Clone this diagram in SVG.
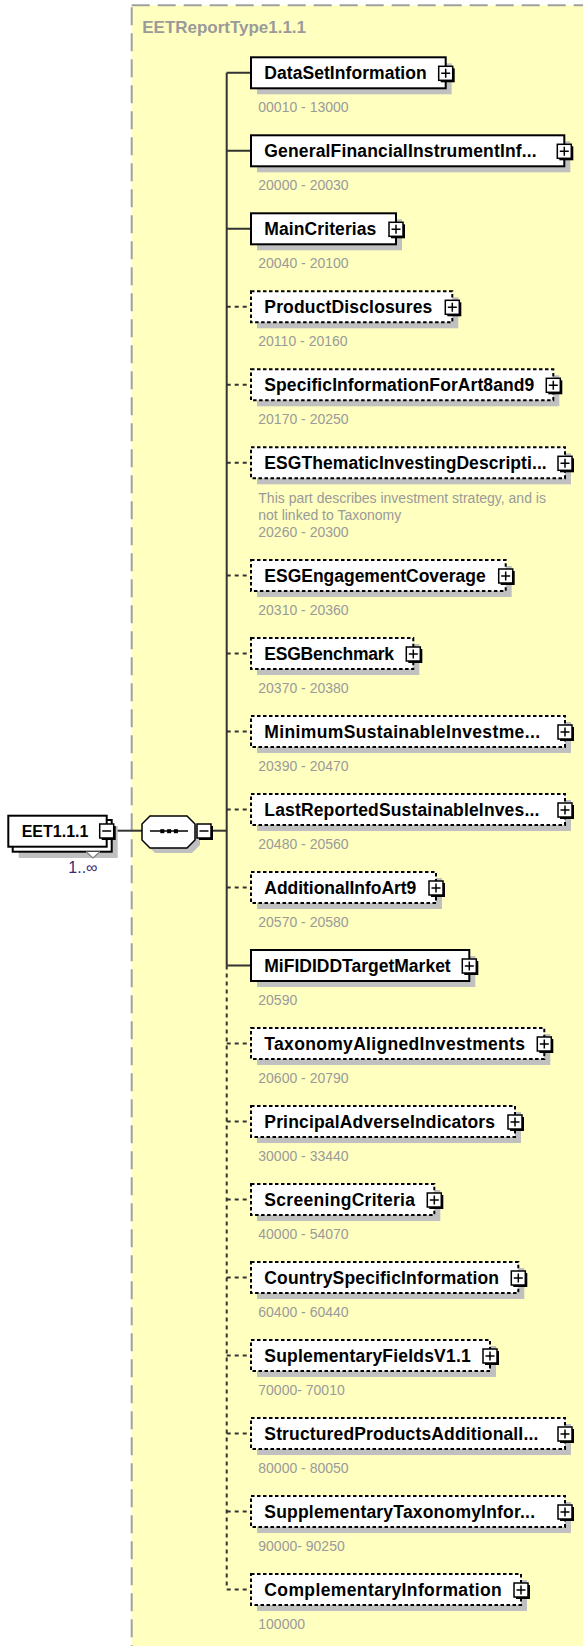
<svg xmlns="http://www.w3.org/2000/svg" xmlns:xlink="http://www.w3.org/1999/xlink" width="583" height="1646" viewBox="0 0 583 1646">
<style>
.lbl{font-family:"Liberation Sans",Arial,sans-serif;font-weight:bold;font-size:17.5px;fill:#000}
.num{font-family:"Liberation Sans",Arial,sans-serif;font-size:14px;fill:#9a9a9a}
.ttl{font-family:"Liberation Sans",Arial,sans-serif;font-weight:bold;font-size:17px;fill:#9a9a9a}
.box{fill:#fff;stroke:#000;stroke-width:2}
.opt{stroke-dasharray:3.5 2.5}
.shd{fill:#c0c0c0}
.con{fill:none;stroke:#333;stroke-width:2}
.dcon{stroke-dasharray:4 4}
.occ{font-family:"Liberation Sans",Arial,sans-serif;font-size:16px;fill:#3a2a70}
</style>
<defs>
<g id="plus">
<rect x="-5" y="-5" width="14" height="14" fill="#000"/>
<rect x="-7" y="-7" width="14" height="14" fill="#fff" stroke="#000" stroke-width="1.5"/>
<path d="M-4.5 0H4.5M0 -4.5V4.5" stroke="#000" stroke-width="1.5"/>
</g>
<g id="minus">
<rect x="-5" y="-5" width="14" height="14" fill="#000"/>
<rect x="-7" y="-7" width="14" height="14" fill="#fff" stroke="#000" stroke-width="1.5"/>
<path d="M-4.5 0H4.5" stroke="#000" stroke-width="1.5"/>
</g>
</defs>

<g id="container">
<rect x="131.7" y="5.3" width="520" height="1700" fill="#ffffc0" stroke="#a0a0a0" stroke-width="2" stroke-dasharray="18 8"/>
<text class="ttl" x="142.3" y="33.3" textLength="163.7">EETReportType1.1.1</text>
</g>

<g id="connectors">
<path class="con" d="M116 830.7H142"/>
<path class="con" d="M212 830.7H226.7"/>
<path class="con" d="M226.7 72.8V965.5"/>
<path class="con dcon" d="M226.7 965.5V1589.5"/>
<path class="con" d="M226.7 72.8H250M226.7 150.8H250M226.7 228.8H250M226.7 965.5H250"/>
<path class="con dcon" d="M226.7 306.8H250M226.7 384.8H250M226.7 462.8H250M226.7 575.5H250M226.7 653.5H250M226.7 731.5H250M226.7 809.5H250M226.7 887.5H250M226.7 1043.5H250M226.7 1121.5H250M226.7 1199.5H250M226.7 1277.5H250M226.7 1355.5H250M226.7 1433.5H250M226.7 1511.5H250M226.7 1589.5H250"/>
</g>

<g id="EET1.1.1">
<rect x="18.7" y="826" width="99" height="32" class="shd"/>
<rect x="12.7" y="820" width="99" height="31.7" class="box"/>
<rect x="8.3" y="815.7" width="98.4" height="31" class="box"/>
<path d="M86 851.7L93 858L100 851.7" fill="#fff" stroke="#808080" stroke-width="1.2"/>
<text class="lbl" x="21.7" y="836.7" style="font-size:16px">EET1.1.1</text>
<use xlink:href="#minus" x="106.7" y="831"/>
<text class="occ" x="68.3" y="873.3">1..∞</text>
</g>

<g id="sequence">
<path d="M155 821H192L200 829V845L192 853H155L147 845V829Z" class="shd"/>
<path d="M150 816H187L195 824V840L187 848H150L142 840V824Z" fill="#fff" stroke="#000" stroke-width="1.5"/>
<path d="M150 831H188" stroke="#000" stroke-width="1.5"/>
<rect x="160.3" y="829.2" width="4" height="4" fill="#000"/>
<rect x="167.1" y="829.2" width="4" height="4" fill="#000"/>
<rect x="173.9" y="829.2" width="4" height="4" fill="#000"/>
<use xlink:href="#minus" x="204" y="831"/>
</g>

<g id="DataSetInformation">
<rect class="shd" x="257" y="63.3" width="194.7" height="31"/>
<rect class="box" x="251" y="57.3" width="194.7" height="31"/>
<text class="lbl" x="264.3" y="79" textLength="162.4">DataSetInformation</text>
<use xlink:href="#plus" x="445.7" y="73.3"/>
<text class="num" x="258.3" y="112.3">00010 - 13000</text>
</g>

<g id="GeneralFinancialInstrumentInformation">
<rect class="shd" x="257" y="141.3" width="313.3" height="31"/>
<rect class="box" x="251" y="135.3" width="313.3" height="31"/>
<text class="lbl" x="264.3" y="157" textLength="272.4">GeneralFinancialInstrumentInf...</text>
<use xlink:href="#plus" x="564.3" y="151.3"/>
<text class="num" x="258.3" y="190.3">20000 - 20030</text>
</g>

<g id="MainCriterias">
<rect class="shd" x="257" y="219.3" width="145" height="31"/>
<rect class="box" x="251" y="213.3" width="145" height="31"/>
<text class="lbl" x="264.3" y="235" textLength="112">MainCriterias</text>
<use xlink:href="#plus" x="396" y="229.3"/>
<text class="num" x="258.3" y="268.3">20040 - 20100</text>
</g>

<g id="ProductDisclosures">
<rect class="shd" x="257" y="297.3" width="201.3" height="31"/>
<rect class="box opt" x="251" y="291.3" width="201.3" height="31"/>
<text class="lbl" x="264.3" y="313" textLength="168">ProductDisclosures</text>
<use xlink:href="#plus" x="452.3" y="307.3"/>
<text class="num" x="258.3" y="346.3">20110 - 20160</text>
</g>

<g id="SpecificInformationForArt8and9">
<rect class="shd" x="257" y="375.3" width="302.3" height="31"/>
<rect class="box opt" x="251" y="369.3" width="302.3" height="31"/>
<text class="lbl" x="264.3" y="391" textLength="270">SpecificInformationForArt8and9</text>
<use xlink:href="#plus" x="553.3" y="385.3"/>
<text class="num" x="258.3" y="424.3">20170 - 20250</text>
</g>

<g id="ESGThematicInvestingDescription">
<rect class="shd" x="257" y="453.3" width="314" height="31"/>
<rect class="box opt" x="251" y="447.3" width="314" height="31"/>
<text class="lbl" x="264.3" y="469" textLength="282.4">ESGThematicInvestingDescripti...</text>
<use xlink:href="#plus" x="565" y="463.3"/>
<text class="num" x="258.3" y="502.5">This part describes investment strategy, and is</text>
<text class="num" x="258.3" y="519.8">not linked to Taxonomy</text>
<text class="num" x="258.3" y="537">20260 - 20300</text>
</g>

<g id="ESGEngagementCoverage">
<rect class="shd" x="257" y="566" width="254.7" height="31"/>
<rect class="box opt" x="251" y="560" width="254.7" height="31"/>
<text class="lbl" x="264.3" y="581.7" textLength="221.4">ESGEngagementCoverage</text>
<use xlink:href="#plus" x="505.7" y="576"/>
<text class="num" x="258.3" y="615">20310 - 20360</text>
</g>

<g id="ESGBenchmark">
<rect class="shd" x="257" y="644" width="162.3" height="31"/>
<rect class="box opt" x="251" y="638" width="162.3" height="31"/>
<text class="lbl" x="264.3" y="659.7" textLength="129.7">ESGBenchmark</text>
<use xlink:href="#plus" x="413.3" y="654"/>
<text class="num" x="258.3" y="693">20370 - 20380</text>
</g>

<g id="MinimumSustainableInvestment">
<rect class="shd" x="257" y="722" width="314" height="31"/>
<rect class="box opt" x="251" y="716" width="314" height="31"/>
<text class="lbl" x="264.3" y="737.7" textLength="275.7">MinimumSustainableInvestme...</text>
<use xlink:href="#plus" x="565" y="732"/>
<text class="num" x="258.3" y="771">20390 - 20470</text>
</g>

<g id="LastReportedSustainableInvestment">
<rect class="shd" x="257" y="800" width="314" height="31"/>
<rect class="box opt" x="251" y="794" width="314" height="31"/>
<text class="lbl" x="264.3" y="815.7" textLength="275">LastReportedSustainableInves...</text>
<use xlink:href="#plus" x="565" y="810"/>
<text class="num" x="258.3" y="849">20480 - 20560</text>
</g>

<g id="AdditionalInfoArt9">
<rect class="shd" x="257" y="878" width="185" height="31"/>
<rect class="box opt" x="251" y="872" width="185" height="31"/>
<text class="lbl" x="264.3" y="893.7" textLength="152">AdditionalInfoArt9</text>
<use xlink:href="#plus" x="436" y="888"/>
<text class="num" x="258.3" y="927">20570 - 20580</text>
</g>

<g id="MiFIDIDDTargetMarket">
<rect class="shd" x="257" y="956" width="218.3" height="31"/>
<rect class="box" x="251" y="950" width="218.3" height="31"/>
<text class="lbl" x="264.3" y="971.7" textLength="186.4">MiFIDIDDTargetMarket</text>
<use xlink:href="#plus" x="469.3" y="966"/>
<text class="num" x="258.3" y="1005">20590</text>
</g>

<g id="TaxonomyAlignedInvestments">
<rect class="shd" x="257" y="1034" width="293.3" height="31"/>
<rect class="box opt" x="251" y="1028" width="293.3" height="31"/>
<text class="lbl" x="264.3" y="1049.7" textLength="260.7">TaxonomyAlignedInvestments</text>
<use xlink:href="#plus" x="544.3" y="1044"/>
<text class="num" x="258.3" y="1083">20600 - 20790</text>
</g>

<g id="PrincipalAdverseIndicators">
<rect class="shd" x="257" y="1112" width="264" height="31"/>
<rect class="box opt" x="251" y="1106" width="264" height="31"/>
<text class="lbl" x="264.3" y="1127.7" textLength="230.7">PrincipalAdverseIndicators</text>
<use xlink:href="#plus" x="515" y="1122"/>
<text class="num" x="258.3" y="1161">30000 - 33440</text>
</g>

<g id="ScreeningCriteria">
<rect class="shd" x="257" y="1190" width="183.3" height="31"/>
<rect class="box opt" x="251" y="1184" width="183.3" height="31"/>
<text class="lbl" x="264.3" y="1205.7" textLength="150.7">ScreeningCriteria</text>
<use xlink:href="#plus" x="434.3" y="1200"/>
<text class="num" x="258.3" y="1239">40000 - 54070</text>
</g>

<g id="CountrySpecificInformation">
<rect class="shd" x="257" y="1268" width="267.3" height="31"/>
<rect class="box opt" x="251" y="1262" width="267.3" height="31"/>
<text class="lbl" x="264.3" y="1283.7" textLength="234.7">CountrySpecificInformation</text>
<use xlink:href="#plus" x="518.3" y="1278"/>
<text class="num" x="258.3" y="1317">60400 - 60440</text>
</g>

<g id="SuplementaryFieldsV1.1">
<rect class="shd" x="257" y="1346" width="239" height="31"/>
<rect class="box opt" x="251" y="1340" width="239" height="31"/>
<text class="lbl" x="264.3" y="1361.7" textLength="206.4">SuplementaryFieldsV1.1</text>
<use xlink:href="#plus" x="490" y="1356"/>
<text class="num" x="258.3" y="1395">70000- 70010</text>
</g>

<g id="StructuredProductsAdditionalInformation">
<rect class="shd" x="257" y="1424" width="314" height="31"/>
<rect class="box opt" x="251" y="1418" width="314" height="31"/>
<text class="lbl" x="264.3" y="1439.7" textLength="274">StructuredProductsAdditionalI...</text>
<use xlink:href="#plus" x="565" y="1434"/>
<text class="num" x="258.3" y="1473">80000 - 80050</text>
</g>

<g id="SupplementaryTaxonomyInformation">
<rect class="shd" x="257" y="1502" width="314" height="31"/>
<rect class="box opt" x="251" y="1496" width="314" height="31"/>
<text class="lbl" x="264.3" y="1517.7" textLength="270.7">SupplementaryTaxonomyInfor...</text>
<use xlink:href="#plus" x="565" y="1512"/>
<text class="num" x="258.3" y="1551">90000- 90250</text>
</g>

<g id="ComplementaryInformation">
<rect class="shd" x="257" y="1580" width="270" height="31"/>
<rect class="box opt" x="251" y="1574" width="270" height="31"/>
<text class="lbl" x="264.3" y="1595.7" textLength="237.4">ComplementaryInformation</text>
<use xlink:href="#plus" x="521" y="1590"/>
<text class="num" x="258.3" y="1629">100000</text>
</g>
</svg>
